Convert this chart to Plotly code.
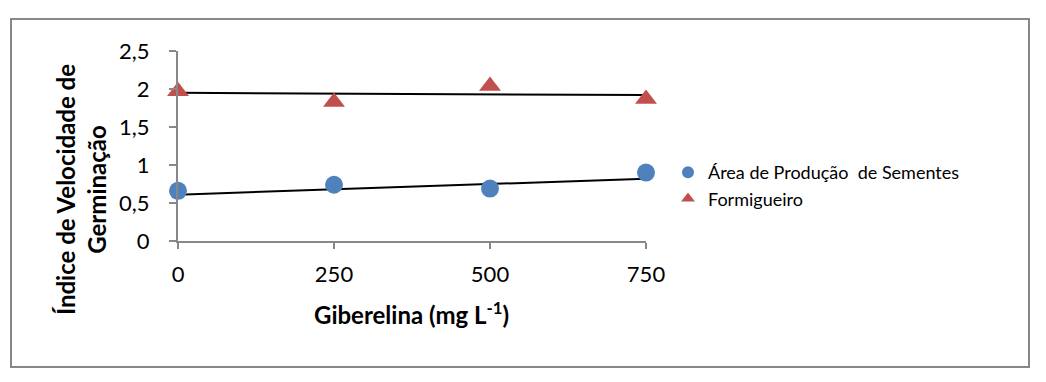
import plotly.graph_objects as go

# Data
giberelina = [0, 250, 500, 750]
area_producao = [0.66, 0.74, 0.69, 0.90]
formigueiro = [1.97, 1.83, 2.04, 1.87]
# linear trend lines (end values)
trend_x = [0, 750]
trend_area = [0.61, 0.82]
trend_formig = [1.95, 1.92]

x_ticks = [0, 250, 500, 750]
y_ticks = [0, 0.5, 1, 1.5, 2, 2.5]
y_ticktext = ["0", "0,5", "1", "1,5", "2", "2,5"]

W, H = 1046, 382
L, R, T, B = 178, 646, 51, 241

blue = "#4F81BD"
red = "#C0504D"
font = "Lato, 'Open Sans', sans-serif"


def fx(p):
    return p / W


def fy(p):
    return 1 - p / H


fig = go.Figure()
fig.add_trace(go.Scatter(x=trend_x, y=trend_area, mode="lines",
                         line=dict(color="black", width=2), showlegend=False,
                         hoverinfo="skip", cliponaxis=False))
fig.add_trace(go.Scatter(x=trend_x, y=trend_formig, mode="lines",
                         line=dict(color="black", width=2), showlegend=False,
                         hoverinfo="skip", cliponaxis=False))
fig.add_trace(go.Scatter(x=giberelina, y=area_producao, mode="markers",
                         name="Área de Produção  de Sementes",
                         marker=dict(symbol="circle", size=18, color=blue),
                         cliponaxis=False))
fig.add_trace(go.Scatter(x=giberelina, y=formigueiro, mode="markers",
                         name="Formigueiro",
                         marker=dict(symbol="triangle-up", size=19, color=red),
                         cliponaxis=False))

fig.update_layout(
    width=W, height=H,
    margin=dict(l=0, r=0, t=0, b=0, autoexpand=False),
    paper_bgcolor="white", plot_bgcolor="white",
    font=dict(family=font, color="black"),
    showlegend=True,
    legend=dict(x=fx(668), y=fy(154), xanchor="left", yanchor="top",
                font=dict(size=18, family=font, color="black"),
                itemsizing="constant", tracegroupgap=0, itemwidth=30,
                bgcolor="rgba(0,0,0,0)"),
    xaxis=dict(domain=[fx(L), fx(R)], automargin=False,
               range=[0, 750], tickvals=x_ticks, ticktext=[str(v) for v in x_ticks],
               showgrid=False, zeroline=False, showline=True, linecolor="#888888",
               linewidth=2, ticks="outside", tickcolor="#888888", ticklen=6,
               tickwidth=2, tickfont=dict(size=22, family=font, color="black"),
               ticklabelstandoff=7),
    yaxis=dict(domain=[fy(B), fy(T)], automargin=False,
               range=[0, 2.5], tickvals=y_ticks, ticktext=y_ticktext,
               showgrid=False, zeroline=False, showline=True, linecolor="#888888",
               linewidth=2, ticks="outside", tickcolor="#888888", ticklen=7,
               tickwidth=2, tickfont=dict(size=22, family=font, color="black"),
               ticklabelstandoff=15),
    shapes=[dict(type="rect", xref="paper", yref="paper",
                 x0=fx(11), x1=fx(1029), y0=fy(367), y1=fy(19),
                 line=dict(color="#888888", width=2), fillcolor="rgba(0,0,0,0)",
                 layer="below")],
    annotations=[
        dict(text="<b>Índice de Velocidade de<br>Germinação</b>", textangle=-90,
             xref="paper", yref="paper", x=fx(81), y=fy(190),
             xanchor="center", yanchor="middle", showarrow=False,
             font=dict(size=24, family=font, color="black"), align="center"),
        dict(text="<b>Giberelina (mg L<sup>-1</sup>)</b>",
             xref="paper", yref="paper", x=fx(411), y=fy(313),
             xanchor="center", yanchor="middle", showarrow=False,
             font=dict(size=24, family=font, color="black")),
    ],
)

fig.write_html("out.html", config={"displayModeBar": False},
               post_script="document.body.style.margin='0';document.body.style.padding='0';")
